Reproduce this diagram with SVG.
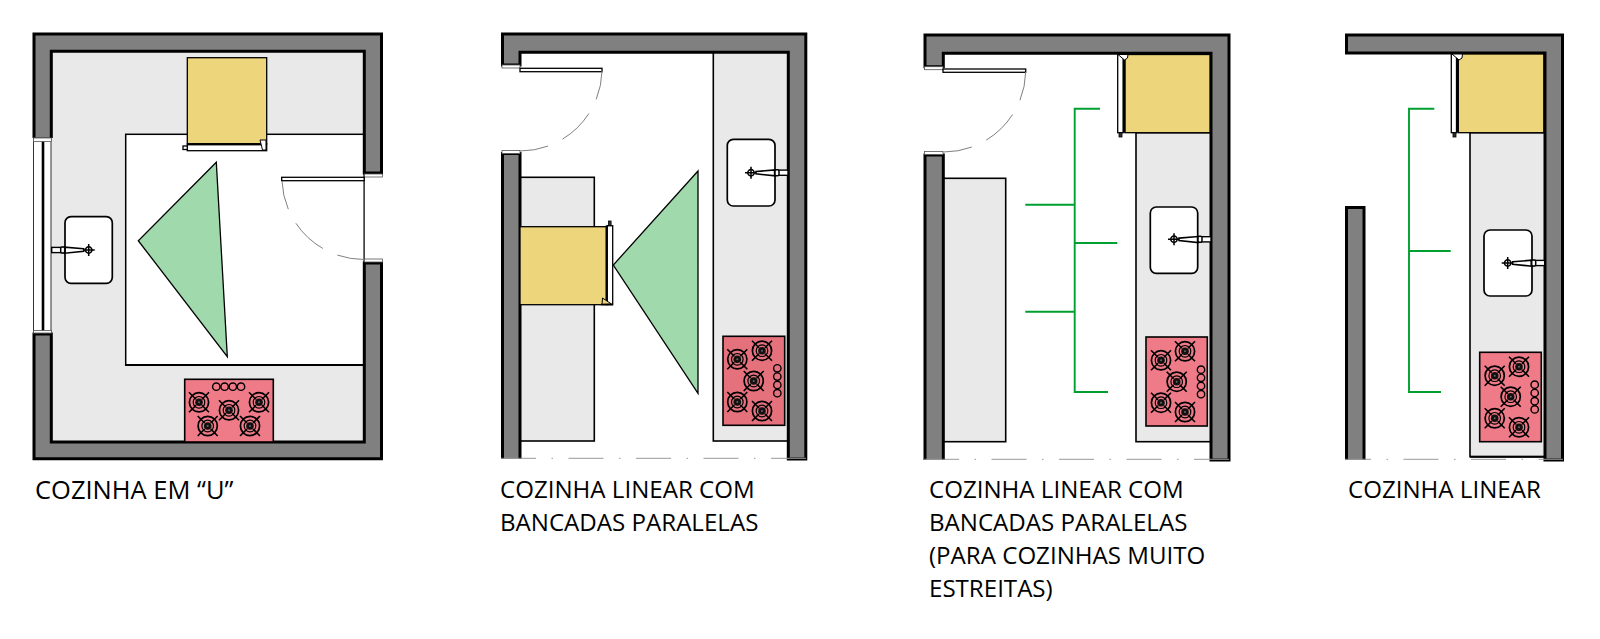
<svg xmlns="http://www.w3.org/2000/svg" xmlns:xlink="http://www.w3.org/1999/xlink" width="1600" height="639" viewBox="0 0 1600 639">
<style>
.wall{fill:#808080;stroke:#000;stroke-width:3}
.counter{fill:#e9e9e9;stroke:#000;stroke-width:1.6}
.fridge{fill:#edd57c;stroke:#000;stroke-width:1.3}
.strip{fill:#fff;stroke:#000;stroke-width:1.3}
.thick{fill:#000}
.tri{fill:#9fd9ac;stroke:#000;stroke-width:1.3}
.arc{fill:none;stroke:#808080;stroke-width:1;stroke-dasharray:29 16 37 16 31}
.jamb{fill:#fff;stroke:#555;stroke-width:.8}
.axis{fill:none;stroke:#999;stroke-width:1;stroke-dasharray:35 15.5 1.5 15.5}
.sink{fill:#fff;stroke:#000;stroke-width:1.7}
.cook{stroke:#000;stroke-width:1.6}
.ring{fill:none;stroke:#000;stroke-width:1.4}
.dim{fill:none;stroke:#00a030;stroke-width:1.9}
text{font-family:"Open Sans","Noto Sans","Liberation Sans",sans-serif;font-size:24.1px;fill:#000}
#u-label{font-size:25.5px}
</style>
<defs>
<g id="burner">
<circle r="9.6" fill="none" stroke="#000" stroke-width="1.7"/>
<circle r="5.8" fill="none" stroke="#000" stroke-width="1.2"/>
<path d="M-10-10L-3-3M10-10L3-3M-10 10L-3 3M10 10L3 3" stroke="#000" stroke-width="1.6"/>
<circle r="3.8" fill="#111"/>
<circle r="1" fill="#666"/>
</g>
<g id="tap">
<path d="M5 -1.2L24 -2.8V3.2L5 1.2Z" fill="#fff" stroke="#000" stroke-width="1.6"/>
<rect x="23.5" y="-2.6" width="13.5" height="5.2" fill="#fff" stroke="#000" stroke-width="1.4"/>
<rect x="24" y="-3" width="4" height="6" rx="1.5" fill="#fff" stroke="#000" stroke-width="1.5"/>
<circle r="3.2" fill="#fff" stroke="#000" stroke-width="1.5"/>
<path d="M-6 0H5M0-6V6" stroke="#000" stroke-width="1.5"/>
</g>
</defs>

<g id="cozinha-u">
<rect x="51" y="51" width="313" height="391" fill="#e9e9e9"/>
<rect x="125.7" y="134.3" width="238.5" height="230.7" fill="#fff" stroke="#000" stroke-width="1.5"/>
<path d="M125 365H364" stroke="#000" stroke-width="2"/>
<path d="M364.5 174V262" stroke="#555" stroke-width=".8"/>
<g id="u-walls">
<path class="wall" d="M34 138V34H381.5V173H364.3V51.3H51.3V138"/>
<path class="wall" d="M51.3 334V442H364.3V263H381.5V458.7H34V334Z"/>
<rect class="jamb" x="364.5" y="174" width="18" height="3"/>
<rect class="jamb" x="364.5" y="259" width="18" height="3"/>
</g>
<g id="u-window">
<rect x="33.5" y="138" width="17.5" height="195" fill="#fff" stroke="#333" stroke-width="1"/>
<rect class="thick" x="41.7" y="141" width="2.6" height="190"/>
<rect class="jamb" x="33.5" y="138" width="18" height="3.5"/>
<rect class="jamb" x="33.5" y="330.5" width="18" height="2.5"/>
</g>
<g id="u-door">
<rect class="strip" x="281.7" y="177.3" width="82.5" height="3.4"/>
<path class="arc" d="M282 181A82 82 0 0 0 364 259.5"/>
</g>
<g id="u-fridge">
<rect class="fridge" x="187.3" y="57.7" width="79.4" height="86.3"/>
<rect class="strip" x="187.3" y="144" width="79.4" height="6.7"/>
<rect class="thick" x="187.3" y="143.2" width="79.4" height="2.2"/>
<rect class="strip" x="183" y="146" width="4.3" height="3.5"/>
<path d="M260 140H266V150L262.5 150Z" fill="#fff" stroke="#000" stroke-width="1"/>
</g>
<polygon id="u-triangle" class="tri" points="216.3,162.3 138.3,240.7 227.3,356.7"/>
<g id="u-sink">
<rect class="sink" x="65" y="216.7" width="47.3" height="66.6" rx="6"/>
<use href="#tap" transform="translate(88.7 250) scale(-1 1)"/>
</g>
<g id="u-cooktop">
<rect class="cook" x="184.7" y="379.3" width="88.6" height="62.7" fill="#ee7b87"/>
<use href="#burner" x="199" y="402.3"/><use href="#burner" x="229" y="410.3"/><use href="#burner" x="259" y="402.3"/><use href="#burner" x="207.7" y="426"/><use href="#burner" x="250" y="426"/>
<circle class="ring" cx="216.3" cy="386.7" r="3.7"/><circle class="ring" cx="224.6" cy="386.7" r="3.7"/><circle class="ring" cx="232.8" cy="386.7" r="3.7"/><circle class="ring" cx="241" cy="386.7" r="3.7"/>
</g>
<text id="u-label" x="35" y="498.5">COZINHA EM “U”</text>
</g>

<g id="cozinha-paralela">
<rect class="counter" x="713.3" y="52" width="75" height="389" fill="#ebebeb"/>
<rect class="counter" x="520" y="177.3" width="74.3" height="263.7" fill="#ededed"/>
<g id="p-walls">
<path class="wall" d="M520 65H502.5V34H805.8V459H788.3V52.3H520Z"/>
<path class="wall" d="M502.5 459V153.5H520V459"/>
<rect class="jamb" x="502" y="65" width="18" height="3"/>
<rect class="jamb" x="502" y="150.5" width="18" height="3"/>
</g>
<path class="axis" d="M501 458.3H806"/>
<g id="p-door">
<rect class="strip" x="520" y="68.3" width="82" height="3.4"/>
<path class="arc" d="M602 71A82 82 0 0 1 520 151"/>
</g>
<g id="p-fridge">
<rect class="fridge" x="520" y="226.7" width="86.7" height="78"/>
<rect class="strip" x="607" y="225.7" width="5.7" height="79"/>
<rect class="thick" x="605.5" y="225.7" width="2.4" height="79"/>
<rect x="608.5" y="221" width="2.6" height="4.7" fill="#333" stroke="#000" stroke-width=".8"/>
<path d="M602.5 298L611.5 304L602 304.5Z" fill="#edd57c" stroke="#000" stroke-width="1"/>
<rect class="thick" x="601" y="303.7" width="12" height="1.6"/>
</g>
<polygon id="p-triangle" class="tri" points="698,171 613.3,265 698,393.3"/>
<g id="p-sink">
<rect class="sink" x="727.3" y="139.3" width="47.7" height="66.7" rx="6"/>
<use href="#tap" x="751" y="172.7"/>
</g>
<g id="p-cooktop">
<rect class="cook" x="723" y="336.3" width="61.7" height="89" fill="#e4717c"/>
<use href="#burner" x="762" y="350.7"/><use href="#burner" x="737.3" y="359.3"/><use href="#burner" x="753.7" y="381"/><use href="#burner" x="737.3" y="402"/><use href="#burner" x="762" y="411"/>
<circle class="ring" cx="777.3" cy="368.3" r="3.7"/><circle class="ring" cx="777.3" cy="376.6" r="3.7"/><circle class="ring" cx="777.3" cy="385" r="3.7"/><circle class="ring" cx="777.3" cy="393.2" r="3.7"/>
</g>
<text id="p-label"><tspan x="500" y="498">COZINHA LINEAR COM</tspan><tspan x="500" y="531">BANCADAS PARALELAS</tspan></text>
</g>

<g id="cozinha-estreita">
<rect class="counter" x="1136" y="132.7" width="75" height="309" fill="#e9e9e9"/>
<rect class="counter" x="943.3" y="178.3" width="62.4" height="263.4" fill="#ededed"/>
<g id="e-walls">
<path class="wall" d="M943.3 66.7H925V35H1229V460H1211V53.3H943.3Z"/>
<path class="wall" d="M925 460V155H943.3V460"/>
<rect class="jamb" x="924.5" y="66.7" width="18.5" height="3"/>
<rect class="jamb" x="924.5" y="151.5" width="18.5" height="3"/>
</g>
<path class="axis" d="M924 459.3H1230"/>
<g id="e-door">
<rect class="strip" x="943" y="69" width="82.7" height="3.3"/>
<path class="arc" d="M1025.7 72A82 82 0 0 1 943.5 152"/>
</g>
<g id="e-fridge">
<rect class="fridge" x="1125" y="54.5" width="85" height="78.2"/>
<rect class="strip" x="1117.7" y="54.5" width="5.5" height="78.2"/>
<rect class="thick" x="1122.8" y="54.5" width="2.4" height="78.2"/>
<rect x="1119" y="132.7" width="3" height="4.3" fill="#333" stroke="#000" stroke-width=".8"/>
<path d="M1118 54.5H1128L1127.5 58L1124.5 60Z" fill="#fff" stroke="#000" stroke-width="1"/>
</g>
<g id="e-sink">
<rect class="sink" x="1150.3" y="207" width="47.4" height="66.3" rx="6"/>
<use href="#tap" x="1174" y="239.3"/>
</g>
<g id="e-cooktop">
<rect class="cook" x="1146" y="337" width="61.3" height="89" fill="#ee7b87"/>
<use href="#burner" x="1185" y="351.3"/><use href="#burner" x="1161" y="360.3"/><use href="#burner" x="1176.7" y="381.7"/><use href="#burner" x="1161" y="402.7"/><use href="#burner" x="1185" y="412"/>
<circle class="ring" cx="1201" cy="369.7" r="3.7"/><circle class="ring" cx="1201" cy="377.8" r="3.7"/><circle class="ring" cx="1201" cy="386" r="3.7"/><circle class="ring" cx="1201" cy="394.2" r="3.7"/>
</g>
<text id="e-label"><tspan x="929" y="498">COZINHA LINEAR COM</tspan><tspan x="929" y="531">BANCADAS PARALELAS</tspan><tspan x="929" y="564">(PARA COZINHAS MUITO</tspan><tspan x="929" y="597">ESTREITAS)</tspan></text>
</g>

<g id="cozinha-linear">
<rect class="counter" x="1470" y="132.7" width="75" height="324" fill="#e9e9e9"/>
<path d="M1470 456.7H1545" stroke="#000" stroke-width="2"/>
<g id="l-walls">
<path class="wall" d="M1346.5 35H1562.5V460H1545V53H1346.5Z"/>
<path class="wall" d="M1346.5 460V207.5H1364V460"/>
</g>
<path class="axis" style="stroke-dashoffset:9" d="M1345 459.3H1563"/>
<g id="l-fridge">
<rect class="fridge" x="1458.3" y="54" width="85.5" height="78.7"/>
<rect class="strip" x="1451.3" y="54" width="5.2" height="78.7"/>
<rect class="thick" x="1456" y="54" width="2.4" height="78.7"/>
<rect x="1453" y="132.7" width="3" height="4.3" fill="#333" stroke="#000" stroke-width=".8"/>
<path d="M1452 54H1462.5L1462 58L1459 60Z" fill="#fff" stroke="#000" stroke-width="1"/>
</g>
<g id="l-sink">
<rect class="sink" x="1484" y="230" width="48" height="66" rx="6"/>
<use href="#tap" x="1507.7" y="263"/>
</g>
<g id="l-cooktop">
<rect class="cook" x="1479.7" y="352.3" width="61.6" height="89.4" fill="#ee7b87"/>
<use href="#burner" x="1519" y="366.7"/><use href="#burner" x="1494.7" y="375.7"/><use href="#burner" x="1510.7" y="396.7"/><use href="#burner" x="1494.7" y="418.3"/><use href="#burner" x="1519" y="427.3"/>
<circle class="ring" cx="1534.7" cy="384.7" r="3.7"/><circle class="ring" cx="1534.7" cy="393" r="3.7"/><circle class="ring" cx="1534.7" cy="401.2" r="3.7"/><circle class="ring" cx="1534.7" cy="409.4" r="3.7"/>
</g>
<text id="l-label" x="1348" y="498">COZINHA LINEAR</text>
</g>

<g id="connectors">
<path class="dim" d="M1100 108.7H1074.7V392H1108M1025.3 204.7H1074.7M1074.7 243H1117.3M1025.3 311.7H1074.7"/>
<path class="dim" d="M1434.3 108.7H1409V392H1441M1409 251H1450.7"/>
</g>
</svg>
